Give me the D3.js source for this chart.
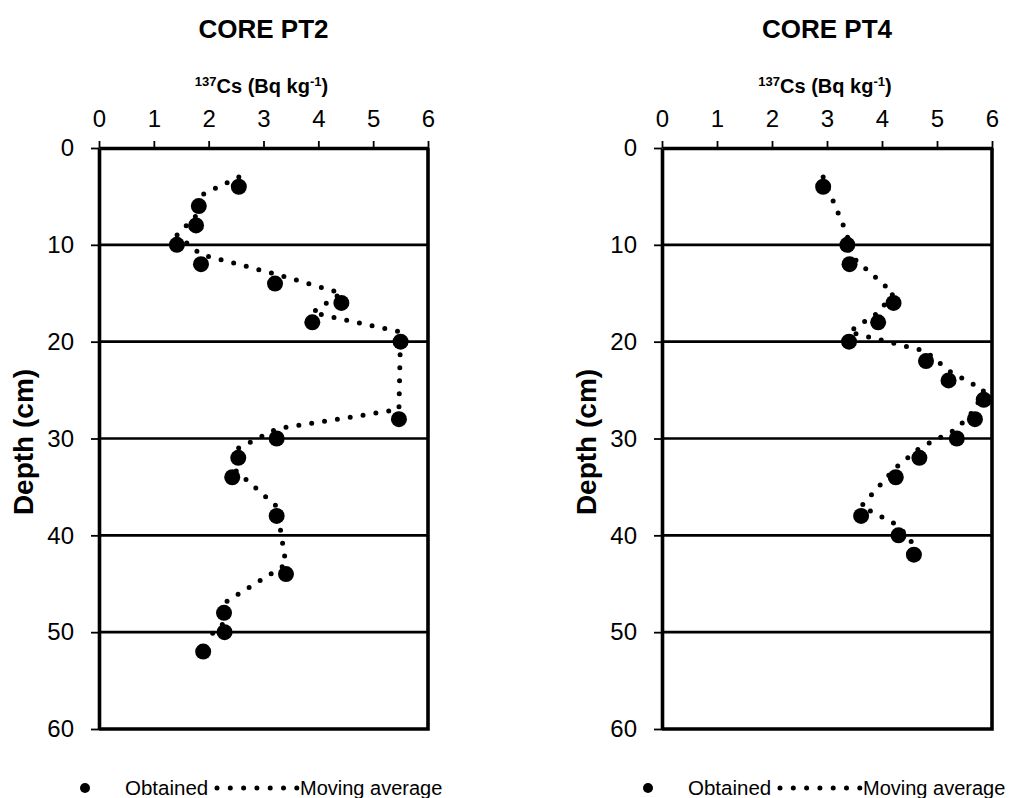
<!DOCTYPE html>
<html>
<head>
<meta charset="utf-8">
<script src="https://cdn.jsdelivr.net/npm/d3@7/dist/d3.min.js"></script>
<style>
    body { margin: 0; background: #fff; }
    svg { font-family: Arial, "Liberation Sans", sans-serif; }
</style>
</head>
<body>
<div class="canvas"></div>
<script>
// DATA

const csTicks = [0, 1, 2, 3, 4, 5, 6];
const depthTicks = [0, 10, 20, 30, 40, 50, 60];
const gridDepths = [10, 20, 30, 40, 50];

// CORE PT2 - obtained
const pt2Depth = [4, 6, 8, 10, 12, 14, 16, 18, 20, 28, 30, 32, 34, 38, 44, 48, 50, 52];
const pt2Cs = [2.55, 1.82, 1.77, 1.42, 1.86, 3.21, 4.42, 3.89, 5.50, 5.47, 3.24, 2.54, 2.43, 3.24, 3.41, 2.28, 2.29, 1.90];
// CORE PT2 - moving average
const pt2AvgDepth = [3, 5, 7, 9, 11, 13, 15, 17, 19, 27, 29, 31, 33, 37, 43, 47, 49, 51];
const pt2AvgCs = [2.55, 1.82, 1.77, 1.42, 1.86, 3.21, 4.42, 3.89, 5.50, 5.47, 3.24, 2.54, 2.43, 3.24, 3.41, 2.28, 2.29, 1.90];

// CORE PT4 - obtained
const pt4Depth = [4, 10, 12, 16, 18, 20, 22, 24, 26, 28, 30, 32, 34, 38, 40, 42];
const pt4Cs = [2.93, 3.37, 3.41, 4.21, 3.93, 3.40, 4.80, 5.21, 5.85, 5.69, 5.36, 4.68, 4.25, 3.62, 4.30, 4.58];
// CORE PT4 - moving average
const pt4AvgDepth = [3, 9, 11, 15, 17, 19, 21, 23, 25, 27, 29, 31, 33, 37, 39, 41];
const pt4AvgCs = [2.93, 3.37, 3.41, 4.21, 3.93, 3.40, 4.80, 5.21, 5.85, 5.69, 5.36, 4.68, 4.25, 3.62, 4.30, 4.58];

const panels = [
    { title: 'CORE PT2', left: 99, width: 329, depth: pt2Depth, cs: pt2Cs, avgDepth: pt2AvgDepth, avgCs: pt2AvgCs },
    { title: 'CORE PT4', left: 662, width: 330, depth: pt4Depth, cs: pt4Cs, avgDepth: pt4AvgDepth, avgCs: pt4AvgCs }
];


// PLOTTING

const svg = d3.select('.canvas')
    .append('svg')
    .attr('width', 1018)
    .attr('height', 798);

const plotTop = 148;
const plotHeight = 581;

panels.forEach(p => {

    const x = d3.scaleLinear().domain([0, 6]).range([0, p.width]);
    const y = d3.scaleLinear().domain([0, 60]).range([0, plotHeight]);

    const g = svg.append('g')
        .attr('transform', `translate(${p.left},${plotTop})`);

    // gridlines
    g.selectAll('.grid')
        .data(gridDepths)
        .enter()
        .append('line')
        .attr('x1', 0)
        .attr('x2', p.width)
        .attr('y1', d => y(d))
        .attr('y2', d => y(d))
        .attr('stroke', '#000')
        .attr('stroke-width', 2.6);

    // right + bottom border
    g.append('path')
        .attr('d', `M${p.width},0V${plotHeight}H0`)
        .attr('fill', 'none')
        .attr('stroke', '#000')
        .attr('stroke-width', 3.6);

    // top axis
    const xAxis = g.append('g')
        .call(d3.axisTop(x).tickValues(csTicks).tickFormat(d3.format('d'))
            .tickSize(7).tickPadding(14).tickSizeOuter(0));

    // left axis
    const yAxis = g.append('g')
        .call(d3.axisLeft(y).tickValues(depthTicks).tickFormat(d3.format('d'))
            .tickSize(8).tickPadding(17).tickSizeOuter(0));

    [xAxis, yAxis].forEach(a => {
        a.select('.domain').attr('stroke-width', 3.6);
        a.selectAll('.tick line').attr('stroke-width', 1.8);
        a.selectAll('.tick text')
            .attr('fill', '#000')
            .style('font-family', 'Arial, "Liberation Sans", sans-serif')
            .style('font-size', '24px');
    });

    // moving average (round dotted)
    const line = d3.line()
        .x((d, i) => x(p.avgCs[i]))
        .y(d => y(d));

    g.append('path')
        .datum(p.avgDepth)
        .attr('d', line)
        .attr('fill', 'none')
        .attr('stroke', '#000')
        .attr('stroke-width', 5)
        .attr('stroke-linecap', 'round')
        .attr('stroke-dasharray', '0 13');

    // obtained
    g.selectAll('.pt')
        .data(p.depth)
        .enter()
        .append('circle')
        .attr('cx', (d, i) => x(p.cs[i]))
        .attr('cy', d => y(d))
        .attr('r', 8)
        .attr('fill', '#000');

    // titles
    g.append('text')
        .attr('x', p.width / 2)
        .attr('y', 38 - plotTop)
        .attr('text-anchor', 'middle')
        .style('font-size', '26px')
        .style('font-weight', 700)
        .text(p.title);

    const axisTitle = g.append('text')
        .attr('x', p.width / 2 - 2)
        .attr('y', 93 - plotTop)
        .attr('text-anchor', 'middle')
        .style('font-size', '20px')
        .style('font-weight', 700);
    axisTitle.append('tspan').attr('dy', -7).style('font-size', '13px').text('137');
    axisTitle.append('tspan').attr('dy', 7).text('Cs (Bq kg');
    axisTitle.append('tspan').attr('dy', -7).style('font-size', '13px').text('-1');
    axisTitle.append('tspan').attr('dy', 7).text(')');

    g.append('text')
        .attr('transform', `translate(${33 - 99},${442 - plotTop}) rotate(-90)`)
        .attr('text-anchor', 'middle')
        .style('font-size', '28px')
        .style('font-weight', 700)
        .text('Depth (cm)');

    // legend
    const leg = g.append('g')
        .attr('transform', `translate(0,${788 - plotTop})`);

    leg.append('circle')
        .attr('cx', -14)
        .attr('cy', 0)
        .attr('r', 5)
        .attr('fill', '#000');

    leg.append('text')
        .attr('x', 26)
        .attr('y', 7)
        .style('font-size', '20.5px')
        .text('Obtained');

    leg.append('line')
        .attr('x1', 118)
        .attr('x2', 198)
        .attr('stroke', '#000')
        .attr('stroke-width', 5)
        .attr('stroke-linecap', 'round')
        .attr('stroke-dasharray', '0 13.3');

    leg.append('text')
        .attr('x', 201)
        .attr('y', 7)
        .style('font-size', '20px')
        .text('Moving average');
});
</script>
</body>
</html>
